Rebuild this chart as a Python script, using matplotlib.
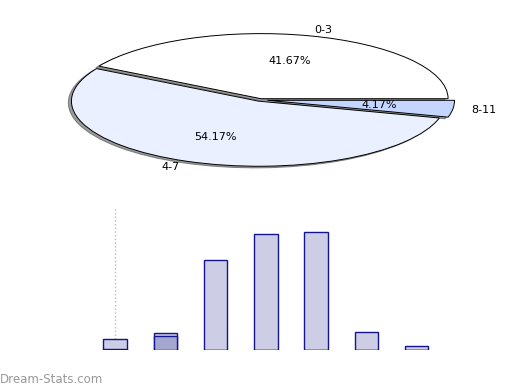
import matplotlib
matplotlib.use('Agg')
import matplotlib.pyplot as plt

# pie data
pie_labels = ['0-3', '4-7', '8-11']
pie_values = [10, 13, 1]
pie_colors = ['#ffffff', '#eaf0ff', '#c4d6ff']
pie_explode = [0.02, 0.02, 0.04]

# bar data
bar_pos = [0, 1, 2, 3, 4, 5, 6]
bar_light = [11.4, 17.4, 90.4, 116.4, 118.4, 18.4, 4.4]
bar_dark = [1.4, 14.4, 0, 0, 0, 0, 0]

fig = plt.figure(figsize=(5.2, 3.9), dpi=100)

ax1 = fig.add_axes([0.025, 0.5067, 0.95, 0.474])
wedges, texts, autotexts = ax1.pie(
    pie_values, labels=pie_labels, colors=pie_colors, explode=pie_explode,
    autopct='%.2f%%', pctdistance=0.6, labeldistance=1.1, startangle=0,
    wedgeprops={'edgecolor': 'black', 'linewidth': 0.7},
    shadow={'ox': -0.012, 'oy': -0.018, 'facecolor': '0.35', 'alpha': 0.6},
    textprops={'fontsize': 8})
ax1.set_aspect('auto')
ax1.set_xlim(-1.32, 1.32)
ax1.set_ylim(-1.42, 1.42)
ax1.axis('off')

ax2 = fig.add_axes([0.1728, 0.1026, 0.677, 0.364])
ax2.axvline(0, color='#bbbbbb', linestyle=':', linewidth=1, zorder=0)
ax2.bar(bar_pos, bar_light, width=0.465, color='#cdcee5', edgecolor='#14148c', linewidth=1)
ax2.bar(bar_pos, bar_dark, width=0.465, color='#a3a6d1', edgecolor='#14148c', linewidth=1)
ax2.set_xlim(-0.5, 6.5)
ax2.set_ylim(0, 142)
ax2.axis('off')

fig.text(0.0, 0.01, 'Dream-Stats.com', fontsize=8.5, color='#999999', ha='left', va='bottom')

fig.savefig('out.png', dpi=100)
